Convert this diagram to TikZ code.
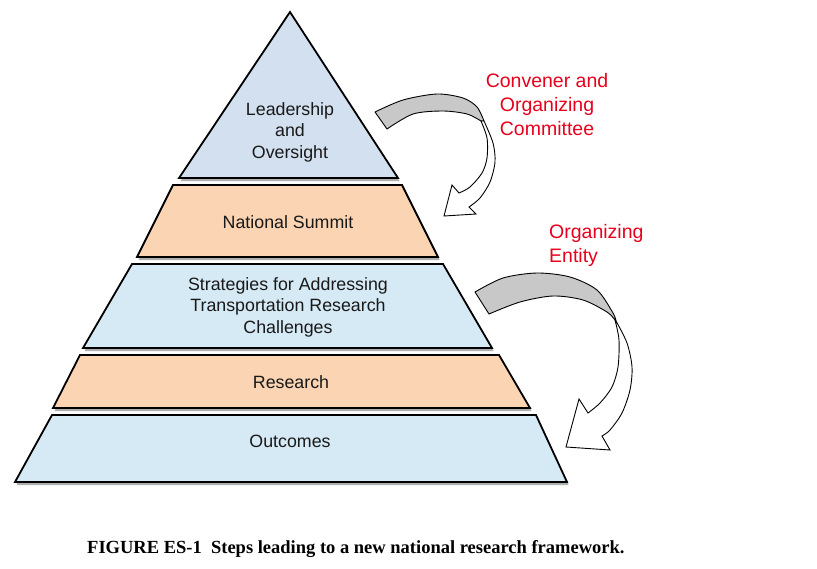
\documentclass[tikz,border=0pt]{standalone}
\usepackage{fontspec}
\setmainfont{Liberation Sans}
\newfontfamily\capfont{Liberation Serif}
\definecolor{tierblueA}{RGB}{210,224,240}
\definecolor{tierblue}{RGB}{214,234,245}
\definecolor{tierpeach}{RGB}{251,212,180}
\definecolor{labelred}{RGB}{232,0,28}
\definecolor{arrowgray}{RGB}{200,200,200}
\definecolor{shadowgray}{RGB}{175,175,175}
\begin{document}
\begin{tikzpicture}[x=1pt,y=-1pt,
  tier/.style={draw=black,line width=1.8pt,line join=miter},
  tiershadow/.style={fill=shadowgray,draw=none,shift={(1.5,3)}},
  tiertext/.style={font=\fontsize{17.8}{21.5}\selectfont,align=center,inner sep=0pt,text=black!90},
  redlabel/.style={font=\fontsize{19.5}{24}\selectfont,text=labelred,inner sep=0pt},
  arrowback/.style={fill=arrowgray,draw=black,line width=0.9pt,line join=round},
  arrowfront/.style={fill=white,draw=black,line width=0.9pt,line join=miter},
  captext/.style={font=\capfont\bfseries\fontsize{18.5}{20}\selectfont,inner sep=0pt}
]
\useasboundingbox[fill=white] (0,0) rectangle (817,568);

% shadows
\fill[tiershadow] (290,12) -- (398,178) -- (179,178) -- cycle;
\fill[tiershadow] (173,185) -- (402,185) -- (438,257) -- (137,257) -- cycle;
\fill[tiershadow] (132,264) -- (443,264) -- (492,348) -- (83,348) -- cycle;
\fill[tiershadow] (80,355) -- (499,355) -- (530,408) -- (53,408) -- cycle;
\fill[tiershadow] (52,415) -- (536,415) -- (567,482) -- (15,482) -- cycle;

% tiers
\filldraw[tier,fill=tierblueA] (290,12) -- (398,178) -- (179,178) -- cycle;
\filldraw[tier,fill=tierpeach] (173,185) -- (402,185) -- (438,257) -- (137,257) -- cycle;
\filldraw[tier,fill=tierblue] (132,264) -- (443,264) -- (492,348) -- (83,348) -- cycle;
\filldraw[tier,fill=tierpeach] (80,355) -- (499,355) -- (530,408) -- (53,408) -- cycle;
\filldraw[tier,fill=tierblue] (52,415) -- (536,415) -- (567,482) -- (15,482) -- cycle;

% tier labels
\node[tiertext] (lead) at (290,132) {Leadership\\and\\Oversight};
\node[tiertext] (summit) at (288,222) {National Summit};
\node[tiertext] (strat) at (288,307) {Strategies for Addressing\\Transportation Research\\Challenges};
\node[tiertext] (research) at (291,382) {Research};
\node[tiertext] (outcomes) at (290,441) {Outcomes};

% upper curved arrow
\filldraw[arrowback] plot[smooth] coordinates {(375,112) (403,100) (437,94) (463,98) (477,107) (484,121)}
  -- plot[smooth] coordinates {(481,121) (467,114) (443,111) (413,114) (387,129)} -- cycle;
\filldraw[arrowfront] plot[smooth] coordinates {(484,121) (493,143) (495,162) (490,182) (480,198) (469,207)}
  -- (476,214) -- (444,216) -- (452,185) -- (459,193)
  -- plot[smooth] coordinates {(459,193) (470,187) (482,173) (487,158) (487,138) (481,121)} -- cycle;

% lower curved arrow
\filldraw[arrowback] plot[smooth] coordinates {(475,292) (503,278) (537,273) (570,277) (597,290) (613,313) (616,321)}
  -- plot[smooth] coordinates {(615,320) (607,312) (583,300) (553,296) (520,302) (489,314)} -- cycle;
\filldraw[arrowfront] plot[smooth] coordinates {(616,321) (627,343) (632,367) (630,390) (622,413) (610,430) (602,436)}
  -- (610,450) -- (566,447) -- (579,399) -- (588,413)
  -- plot[smooth] coordinates {(588,413) (600,403) (612,387) (618,367) (619,340) (615,320)} -- cycle;

% red labels
\node[redlabel,align=center] (conv) at (547,105) {Convener and\\Organizing\\Committee};
\node[redlabel,align=left,anchor=west] (orgent) at (549,245) {Organizing\\Entity};

% caption
\node[captext,anchor=west] (caption) at (87,549) {FIGURE ES-1\ \ Steps leading to a new national research framework.};
\end{tikzpicture}
\end{document}
